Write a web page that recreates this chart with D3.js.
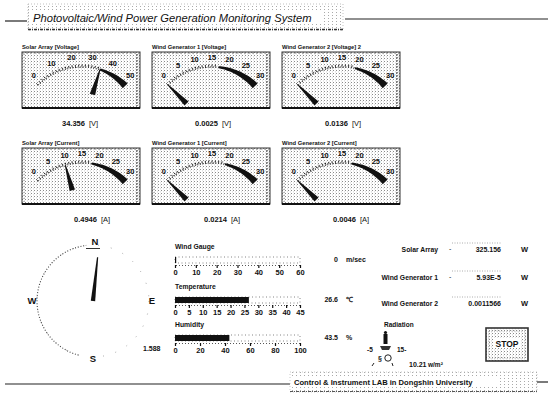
<!DOCTYPE html>
<html><head><meta charset="utf-8">
<script src="https://cdn.jsdelivr.net/npm/d3@7"></script>
<style>
html,body{margin:0;padding:0;background:#fff;}
text{font-family:"Liberation Sans",Arial,sans-serif;fill:#111;}
</style></head>
<body><svg id="c" width="553" height="400"></svg>
<script>
// ---------------- DATA ----------------
const titleText = "Photovoltaic/Wind Power Generation Monitoring System";
const footerText = "Control & Instrument LAB in Dongshin University";
const gaugeTitles = ["Solar Array [Voltage]", "Wind Generator 1 [Voltage]", "Wind Generator 2 [Voltage] 2",
                     "Solar Array [Current]", "Wind Generator 1 [Current]", "Wind Generator 2 [Current]"];
const gaugeMax = [50, 30, 30, 30, 30, 30];
const gaugeTicks = [[0,10,20,30,40,50],[0,5,10,15,20,25,30],[0,5,10,15,20,25,30],
                    [0,5,10,15,20,25,30],[0,5,10,15,20,25,30],[0,5,10,15,20,25,30]];
const gaugeReadings = ["34.356", "0.0025", "0.0136", "0.4946", "0.0214", "0.0046"];
const gaugeUnits = ["[V]", "[V]", "[V]", "[A]", "[A]", "[A]"];
const needleValues = [34.356, 0.0025, 0.0136, 9.8, 0.0214, 0.0046];
const bandStart = [34.356, 17, 19, 18, 19, 18];

const compassLabels = ["N", "E", "S", "W"];
const windDirection = 6;          // degrees
const compassReading = "1.588";

const barTitles = ["Wind Gauge", "Temperature", "Humidity"];
const barValues = [0, 26.6, 43.5];
const barReadings = ["0", "26.6", "43.5"];
const barUnits = ["m/sec", "\u2103", "%"];
const barTicks = [[0,10,20,30,40,50,60],[0,5,10,15,20,25,30,35,40,45],[0,20,40,60,80,100]];

const powerLabels = ["Solar Array", "Wind Generator 1", "Wind Generator 2"];
const powerReadings = ["325.156", "5.93E-5", "0.0011566"];
const powerUnit = "W";

const radiationTitle = "Radiation";
const radiationTicks = ["-5", "15-"];
const radiationReading = "10.21";
const radiationUnit = "w/m\u00b2";
const stopLabel = "STOP";

// ---------------- DRAW ----------------
const svg = d3.select("#c");
const defs = svg.append("defs");
const pat = defs.append("pattern").attr("id","dots").attr("width",3).attr("height",3).attr("patternUnits","userSpaceOnUse");
pat.append("rect").attr("width",3).attr("height",3).attr("fill","#fff");
pat.append("rect").attr("width",1).attr("height",1).attr("fill","#8a8a8a");
pat.append("rect").attr("x",2).attr("y",1.5).attr("width",0.8).attr("height",0.8).attr("fill","#bbb");
const pat2 = defs.append("pattern").attr("id","dots2").attr("width",4).attr("height",3).attr("patternUnits","userSpaceOnUse");
pat2.append("rect").attr("width",4).attr("height",3).attr("fill","#fff");
pat2.append("rect").attr("width",1).attr("height",1).attr("fill","#aaa");

// Title
svg.append("line").attr("x1",5).attr("x2",27).attr("y1",21).attr("y2",21).attr("stroke","#222").attr("stroke-width",1.2);
svg.append("line").attr("x1",345).attr("x2",548).attr("y1",19).attr("y2",19).attr("stroke","#222").attr("stroke-width",1.2);
svg.append("rect").attr("x",28).attr("y",4).attr("width",315).attr("height",26).attr("fill","url(#dots2)")
  .attr("stroke","#999").attr("stroke-width",0.6).attr("stroke-dasharray","1,2");
svg.append("line").attr("x1",28).attr("x2",343).attr("y1",29.5).attr("y2",29.5).attr("stroke","#333").attr("stroke-width",1.5).attr("stroke-dasharray","3,1,1,1");
svg.append("rect").attr("x",31).attr("y",12).attr("width",292).attr("height",12).attr("fill","#fff");
svg.append("text").attr("x",33).attr("y",22).attr("font-size",11.2).attr("font-style","italic").text(titleText);

// Gauges
const gx = [22,152,282], gy = [52,148], gw = 118, gh = 56;
const valX = [[40,43,43],[52,52,51]];
const deg = Math.PI/180;
gaugeTitles.forEach((t,i)=>{
  const col = i%3, row = Math.floor(i/3);
  const x0 = gx[col], y0 = gy[row];
  svg.append("text").attr("x",x0).attr("y",y0-3).attr("font-size",5.8).attr("font-weight","bold").text(t);
  const g = svg.append("g").attr("transform",`translate(${x0},${y0})`);
  g.append("rect").attr("width",gw).attr("height",gh).attr("fill","url(#dots)").attr("stroke","#333").attr("stroke-width",1);
  g.append("line").attr("x1",0).attr("x2",gw).attr("y1",gh).attr("y2",gh).attr("stroke","#111").attr("stroke-width",2.2);
  g.append("line").attr("x1",gw-3).attr("x2",gw-3).attr("y1",2).attr("y2",gh-2).attr("stroke","#444").attr("stroke-width",1.3).attr("stroke-dasharray","1.5,1.5");
  g.append("line").attr("x1",2).attr("x2",2).attr("y1",2).attr("y2",gh-2).attr("stroke","#666").attr("stroke-width",0.8).attr("stroke-dasharray","1,2");
  g.append("line").attr("x1",0).attr("x2",gw).attr("y1",1).attr("y2",1).attr("stroke","#666").attr("stroke-width",0.8).attr("stroke-dasharray","2,2");
  const cx = gw/2+1, cy = 77, R = 62;
  const a = d3.scaleLinear().domain([0,gaugeMax[i]]).range([-45*deg, 45*deg]);
  const aL = d3.scaleLinear().domain([0,gaugeMax[i]]).range([-42*deg, 42*deg]);
  const pt = (v,r)=>[cx + r*Math.sin(a(v)), cy - r*Math.cos(a(v))];
  const ptL = (v,r)=>[cx + r*Math.sin(aL(v)), cy - r*Math.cos(aL(v))];
  // dotted arc
  const p = d3.path(); p.arc(cx,cy,R,a(0)-Math.PI/2,a(bandStart[i])-Math.PI/2);
  g.append("path").attr("d",p.toString()).attr("fill","none").attr("stroke","#333").attr("stroke-width",1.3).attr("stroke-dasharray","1,1.6");
  // minor ticks
  const minor = d3.range(0, gaugeMax[i]+1e-9, gaugeMax[i]/30);
  g.selectAll(null).data(minor.filter(v=>v<bandStart[i])).join("line")
    .attr("x1",v=>pt(v,R+0.5)[0]).attr("y1",v=>pt(v,R+0.5)[1])
    .attr("x2",v=>pt(v,R+2.5)[0]).attr("y2",v=>pt(v,R+2.5)[1])
    .attr("stroke","#222").attr("stroke-width",1);
  // dark band
  const n = 24, b0 = bandStart[i], b1 = gaugeMax[i];
  const sv = d3.range(n+1).map(k=>b0 + (b1-b0)*k/n);
  const outer = sv.map((v,k)=>pt(v, R+1.2+1.3*k/n));
  const inner = sv.map((v,k)=>pt(v, R-0.8-3.6*k/n)).reverse();
  g.append("path").attr("d", d3.line()(outer.concat(inner))+"Z").attr("fill","#111");
  // tick labels
  g.selectAll(null).data(gaugeTicks[i]).join("text")
    .attr("x",v=>ptL(v,72)[0]).attr("y",v=>ptL(v,72)[1]+2.5)
    .attr("text-anchor","middle").attr("font-size",7.5).attr("font-weight","bold").text(v=>v);
  // needle
  const nv = needleValues[i], an = a(nv);
  const ux = Math.sin(an), uy = -Math.cos(an), px = -uy, py = ux;
  const r0 = 36, r1 = 62;
  const needle = [[cx+ux*r0+px*2.8, cy+uy*r0+py*2.8],[cx+ux*r1+px*0.5, cy+uy*r1+py*0.5],
                  [cx+ux*r1-px*0.5, cy+uy*r1-py*0.5],[cx+ux*r0-px*2.8, cy+uy*r0-py*2.8]];
  g.append("path").attr("d", d3.line()(needle)+"Z").attr("fill","#111");
  // reading
  const vy = row===0 ? 126 : 222;
  svg.append("text").attr("x",x0+valX[row][col]).attr("y",vy).attr("font-size",7.5).attr("font-weight","bold").text(gaugeReadings[i]);
  svg.append("text").attr("x",x0+valX[row][col]+27).attr("y",vy).attr("font-size",7.5).text(gaugeUnits[i]);
});

// Compass
const ccx = 93, ccy = 301, cR = 56;
const dirScale = d3.scaleLinear().domain([0,360]).range([0,2*Math.PI]);
const cp = d3.path(); cp.arc(ccx,ccy,cR,0,2*Math.PI);
svg.append("path").attr("d",cp.toString()).attr("fill","none").attr("stroke","#777").attr("stroke-width",0.8).attr("stroke-dasharray","0.8,12");
const cp2 = d3.path(); cp2.arc(ccx,ccy,cR,dirScale(195)-Math.PI/2,dirScale(352)-Math.PI/2);
svg.append("path").attr("d",cp2.toString()).attr("fill","none").attr("stroke","#444").attr("stroke-width",1.1).attr("stroke-dasharray","1,1.8");
svg.append("line").attr("x1",86).attr("x2",100).attr("y1",248.5).attr("y2",248.5).attr("stroke","#333").attr("stroke-width",1);
const labPos = {N:[95,245], E:[152,304], S:[93,362], W:[32,304]};
compassLabels.forEach(l=>{
  svg.append("text").attr("x",labPos[l][0]).attr("y",labPos[l][1]).attr("text-anchor","middle")
    .attr("font-size",9.5).attr("font-weight","bold").text(l);
});
{
  const an = dirScale(windDirection), ux = Math.sin(an), uy = -Math.cos(an), px=-uy, py=ux;
  const nd = [[ccx+px*2.2, ccy+py*2.2],[ccx+ux*44+px*0.6, ccy+uy*44+py*0.6],[ccx+ux*44-px*0.6, ccy+uy*44-py*0.6],[ccx-px*2.2, ccy-py*2.2]];
  svg.append("path").attr("d",d3.line()(nd)+"Z").attr("fill","#111");
}
svg.append("text").attr("x",143).attr("y",351).attr("font-size",7).attr("font-weight","bold").text(compassReading);

// Bars
const bx0 = 175, bx1 = 300;
const barY = [257, 297, 335];
barTitles.forEach((t,i)=>{
  const y = barY[i];
  const max = barTicks[i][barTicks[i].length-1];
  const x = d3.scaleLinear().domain([0,max]).range([bx0,bx1]);
  svg.append("text").attr("x",bx0).attr("y",y-8).attr("font-size",6.8).attr("font-weight","bold").text(t);
  svg.append("rect").attr("x",bx0).attr("y",y).attr("width",bx1-bx0).attr("height",6).attr("fill","none")
    .attr("stroke","#666").attr("stroke-width",0.8).attr("stroke-dasharray","1,2.5");
  svg.append("rect").attr("x",bx0).attr("y",y).attr("width",Math.max(1.2, x(barValues[i])-bx0)).attr("height",6).attr("fill","#111");
  const ax = d3.axisBottom(x).tickValues(barTicks[i]).tickSize(3).tickFormat(d3.format("d"));
  const ag = svg.append("g").attr("transform",`translate(0,${y+8})`).call(ax);
  ag.select(".domain").attr("stroke","#555").attr("stroke-dasharray","1,2");
  ag.selectAll(".tick line").attr("stroke","#111").attr("stroke-width",1.2);
  ag.selectAll(".tick text").attr("font-size",7.5).attr("font-weight","bold").attr("fill","#111").attr("dy","0.55em")
    .attr("font-family","Liberation Sans, Arial, sans-serif");
  svg.append("text").attr("x",338).attr("y",y+5).attr("text-anchor","end").attr("font-size",7).attr("font-weight","bold").text(barReadings[i]);
  svg.append("text").attr("x",346).attr("y",y+5).attr("font-size",7).attr("font-weight","bold").text(barUnits[i]);
});

// Power panel
const pY = [252, 280, 306];
powerLabels.forEach((t,i)=>{
  svg.append("text").attr("x",438).attr("y",pY[i]).attr("text-anchor","end").attr("font-size",6.8).attr("font-weight","bold").text(t);
  svg.append("line").attr("x1",452).attr("x2",502).attr("y1",pY[i]-9).attr("y2",pY[i]-9).attr("stroke","#999").attr("stroke-width",0.8).attr("stroke-dasharray","1,1.5");
  if(i<2) svg.append("text").attr("x",449).attr("y",pY[i]-1).attr("font-size",7).text("-");
  svg.append("text").attr("x",501).attr("y",pY[i]).attr("text-anchor","end").attr("font-size",7).attr("font-weight","bold").text(powerReadings[i]);
  svg.append("text").attr("x",521).attr("y",pY[i]).attr("font-size",7.5).attr("font-weight","bold").text(powerUnit);
});

// Radiation
svg.append("text").attr("x",384).attr("y",327).attr("font-size",6.5).attr("font-weight","bold").text(radiationTitle);
svg.append("rect").attr("x",383.5).attr("y",334).attr("width",4).attr("height",10).attr("fill","#111");
svg.append("circle").attr("cx",385.5).attr("cy",332.5).attr("r",1.6).attr("fill","#111");
svg.append("path").attr("d","M380,346 L391,346 L389,350 L382,350 Z").attr("fill","#333");
svg.append("text").attr("x",367).attr("y",352).attr("font-size",6.5).attr("font-weight","bold").text(radiationTicks[0]);
svg.append("text").attr("x",397).attr("y",352).attr("font-size",6.5).attr("font-weight","bold").text(radiationTicks[1]);
svg.append("circle").attr("cx",388).attr("cy",358).attr("r",3.2).attr("fill","none").attr("stroke","#222").attr("stroke-width",1);
svg.append("text").attr("x",378).attr("y",361).attr("font-size",7).attr("font-weight","bold").text("\u00a7");
svg.append("line").attr("x1",374).attr("x2",372).attr("y1",363).attr("y2",366).attr("stroke","#222");
svg.append("line").attr("x1",392).attr("x2",393).attr("y1",363).attr("y2",366).attr("stroke","#222");
svg.append("text").attr("x",409).attr("y",367).attr("font-size",7).attr("font-weight","bold").text(radiationReading);
svg.append("text").attr("x",428).attr("y",367).attr("font-size",6.5).attr("font-weight","bold").text(radiationUnit);

// STOP button
svg.append("rect").attr("x",486).attr("y",328).attr("width",42).attr("height",33).attr("fill","url(#dots)").attr("stroke","#333").attr("stroke-width",1.6);
svg.append("rect").attr("x",489).attr("y",331).attr("width",36).attr("height",27).attr("fill","none").attr("stroke","#888").attr("stroke-width",0.7).attr("stroke-dasharray","1,1.5");
svg.append("rect").attr("x",494).attr("y",338).attr("width",26).attr("height",10).attr("fill","#fff");
svg.append("text").attr("x",507).attr("y",346.5).attr("text-anchor","middle").attr("font-size",8.5).attr("font-weight","bold").text(stopLabel);

// Footer
svg.append("line").attr("x1",5).attr("x2",290).attr("y1",384).attr("y2",384).attr("stroke","#222").attr("stroke-width",1.2);
svg.append("line").attr("x1",537).attr("x2",548).attr("y1",382).attr("y2",382).attr("stroke","#222").attr("stroke-width",1.2);
svg.append("rect").attr("x",290).attr("y",372).attr("width",247).attr("height",20).attr("fill","url(#dots2)")
  .attr("stroke","#aaa").attr("stroke-width",0.6).attr("stroke-dasharray","1,2");
svg.append("line").attr("x1",290).attr("x2",537).attr("y1",391.5).attr("y2",391.5).attr("stroke","#555").attr("stroke-width",1.2).attr("stroke-dasharray","3,1,1,1");
svg.append("rect").attr("x",292).attr("y",377).attr("width",208).attr("height",9).attr("fill","#fff");
svg.append("text").attr("x",294).attr("y",384.5).attr("font-size",7.6).attr("font-weight","bold").text(footerText);
</script></body></html>
